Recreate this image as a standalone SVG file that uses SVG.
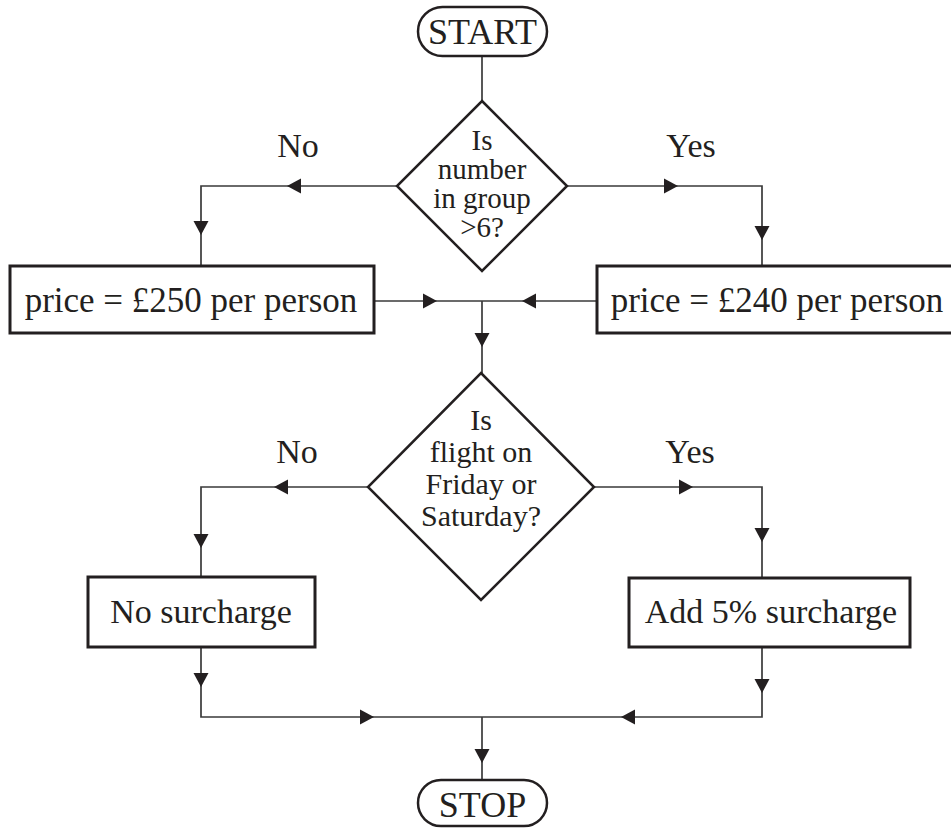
<svg xmlns="http://www.w3.org/2000/svg" xmlns:xlink="http://www.w3.org/1999/xlink" width="951" height="828" viewBox="0 0 951 828">
<defs>
<style>
text{font-family:"Liberation Serif","DejaVu Serif",serif;fill:#231f20;text-anchor:middle}
.t{font-size:34px}
.p{font-size:35px}
.term{font-size:36px}
.d1{font-size:29px}
.d2{font-size:30px}
.box{fill:#fff;stroke:#231f20;stroke-width:3}
.dia{fill:#fff;stroke:#231f20;stroke-width:2.5}
.ln{fill:none;stroke:#3a3a3a;stroke-width:1.7}
.ah{fill:#231f20}
</style>
<path id="ah" d="M0,0 L-14,-7.5 L-14,7.5 Z"/>
</defs>
<rect width="951" height="828" fill="#fff"/>

<g id="connectors">
<path class="ln" d="M482,56 V102"/>
<path class="ln" d="M397,186 H201 V266"/>
<path class="ln" d="M567,186 H762 V266"/>
<path class="ln" d="M374,301 H597"/>
<path class="ln" d="M482,301 V373"/>
<path class="ln" d="M368,487 H201 V577"/>
<path class="ln" d="M593,487 H762 V578"/>
<path class="ln" d="M201,647 V717 H762 V647"/>
<path class="ln" d="M482,717 V780"/>
<g class="ah">
<use xlink:href="#ah" transform="translate(287,186) rotate(180)"/>
<use xlink:href="#ah" transform="translate(201,235) rotate(90)"/>
<use xlink:href="#ah" transform="translate(678,186)"/>
<use xlink:href="#ah" transform="translate(762,240) rotate(90)"/>
<use xlink:href="#ah" transform="translate(437,301)"/>
<use xlink:href="#ah" transform="translate(522,301) rotate(180)"/>
<use xlink:href="#ah" transform="translate(482,347) rotate(90)"/>
<use xlink:href="#ah" transform="translate(274,487) rotate(180)"/>
<use xlink:href="#ah" transform="translate(201,548) rotate(90)"/>
<use xlink:href="#ah" transform="translate(693,487)"/>
<use xlink:href="#ah" transform="translate(762,542) rotate(90)"/>
<use xlink:href="#ah" transform="translate(201,687) rotate(90)"/>
<use xlink:href="#ah" transform="translate(374,717)"/>
<use xlink:href="#ah" transform="translate(762,693) rotate(90)"/>
<use xlink:href="#ah" transform="translate(621,717) rotate(180)"/>
<use xlink:href="#ah" transform="translate(482,763) rotate(90)"/>
</g>
<text class="t" x="298" y="157">No</text>
<text class="t" x="691" y="157">Yes</text>
<text class="t" x="297" y="463">No</text>
<text class="t" x="690" y="463">Yes</text>
</g>

<g id="start">
<rect class="dia" x="418" y="7" width="129" height="49" rx="24.5"/>
<text class="term" x="482.5" y="44">START</text>
</g>

<g id="decision1">
<polygon class="dia" points="482,101 567,186 482,271 397,186"/>
<text class="d1" x="482" y="149.5">Is</text>
<text class="d1" x="482" y="178.5">number</text>
<text class="d1" x="482" y="207.5">in group</text>
<text class="d1" x="482" y="236.5">&gt;6?</text>
</g>

<g id="price250">
<rect class="box" x="10" y="266" width="364" height="67"/>
<text class="p" x="191" y="312">price = £250 per person</text>
</g>

<g id="price240">
<rect class="box" x="597" y="266" width="358" height="67"/>
<text class="p" x="777" y="312">price = £240 per person</text>
</g>

<g id="decision2">
<polygon class="dia" points="481,373 594,487 481,600 368,487"/>
<text class="d2" x="481" y="429.5">Is</text>
<text class="d2" x="481" y="461.5">flight on</text>
<text class="d2" x="481" y="493.5">Friday or</text>
<text class="d2" x="481" y="525.5">Saturday?</text>
</g>

<g id="nosurcharge">
<rect class="box" x="88" y="577" width="227" height="70"/>
<text class="t" x="201" y="623">No surcharge</text>
</g>

<g id="surcharge">
<rect class="box" x="629" y="578" width="281" height="69"/>
<text class="t" x="771" y="623">Add 5% surcharge</text>
</g>

<g id="stop">
<rect class="dia" x="418" y="780" width="129" height="46" rx="23"/>
<text class="term" x="482.5" y="817">STOP</text>
</g>
</svg>
